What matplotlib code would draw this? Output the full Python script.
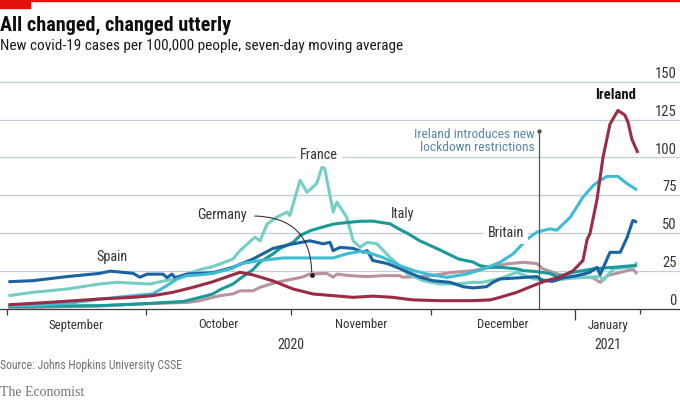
import matplotlib
matplotlib.use("Agg")
import matplotlib.pyplot as plt
import matplotlib.dates as mdates
from matplotlib import font_manager as fm
from matplotlib.patches import Rectangle
import matplotlib.transforms as mtransforms
import datetime as dt
import numpy as np

# ---------------- data (day offset from 2020-09-01, cases per 100k) ----------------
spain_days = [0.4, 5.7, 13, 20, 22.3, 27.2, 28.6, 30.2, 33.6, 34.4, 35.5, 36.2, 38.7, 44.3, 48.6,
              52.9, 57.2, 61.5, 65.1, 68, 69.4, 70.1, 71.6, 74.4, 76.5, 77.4, 78.6, 81.7, 84.4,
              88.7, 91.5, 95.2, 98, 100.1, 103, 104.4, 105.9, 109.5, 113.8, 115.1, 117.3, 119.4,
              122.4, 125.2, 126.7, 127.4, 129.5, 131.7, 133.2, 134.4, 135.3]
spain_vals = [18, 18.7, 21.4, 23.5, 25, 23.5, 21, 23, 23, 20.7, 23, 20.7, 23, 24, 27.5,
              33, 40, 43, 45, 43, 44, 38.5, 40.7, 40, 37.5, 38.5, 32, 30, 26.7,
              21, 18.7, 17.6, 14.7, 13.9, 14.7, 17.6, 19.8, 20.5, 21.4, 18.7, 18.3, 20.5,
              22, 24.2, 27.5, 22.7, 37.4, 37.4, 47.4, 58.4, 57.3]

france_days = [0.4, 5.7, 13, 20, 23.7, 30.8, 35.7, 41.5, 44.3, 48.6, 50.1, 53.3, 54.4, 55.9, 58,
               60.2, 60.8, 63, 64.5, 66.6, 67.7, 68.3, 70.1, 70.9, 73, 74.4, 75.9, 77.4, 79.5,
               82.3, 83.8, 86, 89.4, 93, 96.6, 100, 102, 105.9, 109.5, 113, 116.6, 120.3, 124.6,
               127.4, 128, 130.2, 133.2, 134.4, 135.3]
france_vals = [8.8, 11, 13.2, 16.5, 17.6, 16.5, 19.8, 26, 28, 33, 38.5, 47.4, 45, 56, 60.6,
               64, 61.7, 85, 77, 83, 93.7, 92.6, 64, 70.5, 60.6, 45, 40.7, 44, 43,
               34, 30, 23.3, 18.7, 16.5, 16.5, 17.6, 17.6, 20, 24.2, 20, 18.7, 20, 21,
               21.4, 18.7, 26.5, 27.5, 27.5, 30.8]

germany_days = [0.4, 5.7, 20, 30, 39, 41.5, 44.3, 45.8, 48.6, 50.1, 52.9, 54.4, 57.9, 61.8, 63.4,
                65.1, 68.7, 70.1, 70.9, 73.7, 77.4, 80.8, 84.4, 85, 90, 95.8, 100.1, 103.8,
                107.4, 110.9, 113.8, 115.1, 118.1, 120.3, 123.7, 125.9, 127.4, 128.9, 133.2,
                134.4, 135.3]
germany_vals = [0.8, 1, 2, 3.5, 4.4, 5.5, 7.7, 8.8, 10, 12, 12, 14.3, 17.6, 20, 21,
                23.1, 23.5, 21, 23, 22, 21.4, 22, 22, 21, 21.5, 24.2, 25.3, 27.5,
                29.8, 30.8, 30, 26.5, 23.3, 21, 21.4, 20.5, 17.6, 22, 25.3,
                26.5, 23.1]

italy_days = [0.4, 10, 20, 30.8, 38, 43, 44.3, 46, 48.6, 50.1, 52.9, 54.4, 57.2, 58.7, 61.5, 63,
              65.3, 67.3, 70.1, 71.6, 75.9, 78.6, 82.3, 84.4, 86, 88.7, 93, 97, 100.1, 101.6,
              103.8, 105.9, 109.5, 111, 113, 116.6, 118.1, 121.6, 125.9, 130.2, 134.4, 135.3]
italy_vals = [1.5, 2, 2.2, 3.7, 5, 8.8, 10, 13, 16.5, 20, 26, 31, 36.4, 40, 44, 48.5,
              51.8, 53.6, 56, 56.6, 57.9, 58, 56.2, 52.5, 50, 45, 39, 33, 31, 28.6,
              27.5, 27.5, 26.5, 25.3, 24.9, 23.5, 21.4, 24.2, 26.5, 27.5, 28.6, 28.6]

britain_days = [0.4, 7, 14, 20, 27.2, 31.4, 34.4, 36.6, 38.7, 41.5, 44.3, 48.6, 50.1, 54.4, 59.4,
                65.1, 70.1, 73, 75.9, 77.4, 80.8, 84.4, 87.4, 90.2, 94.5, 98.8, 102.4, 105.9,
                108.7, 111.7, 113.8, 116.6, 118.1, 121, 123.7, 125.9, 127.4, 128.9, 131.2,
                133.2, 135.3]
britain_vals = [2, 2.5, 4, 6.5, 8.8, 10, 15.4, 19.8, 22, 22.5, 23.5, 27, 29.8, 32, 33.7,
                33.7, 33.7, 36.4, 38, 37.4, 34, 28.6, 25.3, 23.1, 20.9, 23.1, 26.5, 30.8,
                36.4, 46, 50.7, 52.9, 52, 60.6, 73.8, 81.5, 84.9, 87.5, 87.5,
                82.7, 78.5]

ireland_days = [0.4, 9.3, 20, 27.2, 31.4, 35.7, 40, 44.3, 48, 50.1, 52.9, 57.2, 61.5, 65.8, 70.1,
                74.4, 78.6, 82.9, 87.2, 93, 100.1, 103.8, 105.9, 109.5, 113, 115.8, 118.8,
                121.6, 123.7, 124.6, 125.2, 126.7, 128, 129.5, 131.2, 132.7, 133.4, 134.2, 135.5]
ireland_vals = [2.8, 4.4, 6.6, 7.7, 8.8, 11, 14.3, 18, 22, 24.2, 22.5, 18.5, 13.2, 9.9, 8.8,
                7.7, 8.5, 7.7, 6, 5.5, 5.5, 6, 7.7, 11, 15.4, 18.7, 21,
                25.3, 32, 46, 49.6, 72, 100, 122, 131, 128, 123, 112, 103]

lockdown_day = 114.3   # 24 December 2020
germany_pointer = (65.5, 22.7)

month_ticks = ["2020-09-01", "2020-10-01", "2020-11-01", "2020-12-01", "2021-01-01", "2021-01-15"]
month_labels = ["September", "October", "November", "December", "January"]
year_labels = ["2020", "2021"]
y_ticks = [0, 25, 50, 75, 100, 125, 150]

# ---------------- fonts ----------------
names = {f.name for f in fm.fontManager.ttflist}
def pick(*cands):
    for c in cands:
        if c in names:
            return c
    return "DejaVu Sans"
SANS = pick("Liberation Sans Narrow", "Roboto Condensed", "Open Sans Condensed", "Roboto", "Lato")
SERIF = pick("Liberation Serif", "DejaVu Serif")
plt.rcParams["font.family"] = [SANS, "DejaVu Sans"]

C_SPAIN = "#1B62A0"
C_FRANCE = "#74CEC6"
C_GERMANY = "#B8939F"
C_ITALY = "#179A98"
C_BRITAIN = "#3EBCD2"
C_IRELAND = "#9B2C46"
GRID = "#BFCDD6"
TXT = "#333333"

W, H = 680, 401
fig = plt.figure(figsize=(W / 100, H / 100), dpi=100)
axis_y = 309.0
top_y = 75
px_per_unit = (axis_y - 81.7) / 150
ax = fig.add_axes([0, 1 - axis_y / H, 1, (axis_y - top_y) / H])
ax.set_facecolor("none")

base = mdates.date2num(dt.datetime(2020, 9, 1))
def X(days):
    return base + np.asarray(days, dtype=float)

px_per_day = 4.66
ax.set_xlim(base - 6.5 / px_per_day, base + (W - 6.5) / px_per_day)
ax.set_ylim(0, (axis_y - top_y) / px_per_unit)

# grid
for v in y_ticks[1:]:
    ax.axhline(v, color=GRID, lw=0.9, zorder=0)
for s in ["top", "right", "left"]:
    ax.spines[s].set_visible(False)
ax.spines["bottom"].set_color("#3a3a3a")
ax.spines["bottom"].set_linewidth(0.9)
ax.set_yticks([])

tick_nums = [mdates.date2num(dt.datetime.fromisoformat(t)) for t in month_ticks]
ax.set_xticks(tick_nums)
ax.set_xticklabels([])
ax.tick_params(axis="x", length=4.5, width=0.9, color="#3a3a3a", direction="out")
tl = ax.xaxis.get_major_ticks()
tl[4].tick1line.set_markersize(8)
tl[5].tick1line.set_markersize(3.5)

lw = 2.2
ax.plot(X(germany_days), germany_vals, color=C_GERMANY, lw=lw, zorder=3, solid_capstyle="butt")
ax.plot(X(france_days), france_vals, color=C_FRANCE, lw=lw, zorder=3, solid_capstyle="butt")
ax.plot(X(italy_days), italy_vals, color=C_ITALY, lw=lw, zorder=4, solid_capstyle="butt")
ax.plot(X(spain_days), spain_vals, color=C_SPAIN, lw=lw, zorder=4, solid_capstyle="butt")
ax.plot(X(britain_days), britain_vals, color=C_BRITAIN, lw=lw, zorder=5, solid_capstyle="butt")
ax.plot(X(ireland_days), ireland_vals, color=C_IRELAND, lw=lw, zorder=6, solid_capstyle="butt")

# y labels on right, above gridlines
ylab_tr = mtransforms.offset_copy(mtransforms.blended_transform_factory(fig.transFigure, ax.transData),
                                  fig=fig, x=0, y=2.8, units="points")
for v in y_ticks:
    ax.text(677 / W, v, str(v), transform=ylab_tr, ha="right", va="baseline",
            fontsize=10.5, color=TXT, zorder=7)

# x labels
xt = mtransforms.blended_transform_factory(ax.transData, fig.transFigure)
mids = [(tick_nums[i] + tick_nums[i + 1]) / 2 for i in range(5)]
for m, lab in zip(mids, month_labels):
    ax.text(m, 1 - 325 / H, lab, transform=xt, ha="center", va="center", fontsize=9.3, color=TXT)
ax.text(tick_nums[2], 1 - 345 / H, year_labels[0], transform=xt, ha="center", va="center",
        fontsize=10, color=TXT)
ax.text(mids[4], 1 - 345 / H, year_labels[1], transform=xt, ha="center", va="center",
        fontsize=10, color=TXT)

# lockdown line
ld = base + lockdown_day
top_val = (axis_y - 130.7) / px_per_unit
ax.plot([ld, ld], [0, top_val], color="#555555", lw=0.9, zorder=6)
ax.plot([ld], [top_val], marker="o", ms=2.2, color="#555555", zorder=6)
ax.text(ld - 1.0, top_val, "Ireland introduces new\nlockdown restrictions",
        ha="right", va="top", fontsize=9.7, color="#5A87A8", linespacing=1.05,
        transform=mtransforms.offset_copy(ax.transData, fig=fig, x=0, y=2.3, units="points"))

# series labels
def lab_at(px, py, s, color=TXT, size=10.3, **kw):
    ax.text(px / W, 1 - py / H, s, transform=fig.transFigure, ha="center", va="center",
            fontsize=size, color=color, zorder=8, **kw)

lab_at(112, 257, "Spain")
lab_at(319, 155, "France", bbox=dict(boxstyle="square,pad=0.3", fc="white", ec="none"))
lab_at(403, 214, "Italy")
lab_at(506, 233, "Britain", bbox=dict(boxstyle="square,pad=0.3", fc="white", ec="none"))
lab_at(616, 95, "Ireland", color="#111111", size=10.5, fontweight="bold")
lab_at(222, 215, "Germany")

# Germany pointer
gx, gy = base + germany_pointer[0], germany_pointer[1]
ax.annotate("", xy=(gx, gy), xytext=(252 / W, 1 - 216 / H), textcoords="figure fraction",
            arrowprops=dict(arrowstyle="-", color="#333333", lw=0.8,
                            connectionstyle="angle3,angleA=0,angleB=90"), zorder=8)
ax.plot([gx], [gy], marker="o", ms=2.5, color="#222222", zorder=9)

# header
fig.patches.append(Rectangle((0, 1 - 1.2 / H), 1, 1.2 / H, transform=fig.transFigure,
                             color="#E3120B", zorder=10))
fig.patches.append(Rectangle((0, 1 - 8 / H), 30 / W, 8 / H, transform=fig.transFigure,
                             color="#E3120B", zorder=10))
fig.text(0, 1 - 25 / H, "All changed, changed utterly", fontsize=14.5, fontweight="bold",
         color="#0D0D0D", ha="left", va="center")
fig.text(0, 1 - 46 / H, "New covid-19 cases per 100,000 people, seven-day moving average",
         fontsize=11, color="#1A1A1A", ha="left", va="center")
fig.text(0, 1 - 366 / H, "Source: Johns Hopkins University CSSE", fontsize=8.5, color="#707070",
         ha="left", va="center")
fig.text(0, 1 - 392 / H, "The Economist", fontsize=10, color="#707070", ha="left", va="center",
         family=SERIF)

fig.savefig("out.png", dpi=100)
